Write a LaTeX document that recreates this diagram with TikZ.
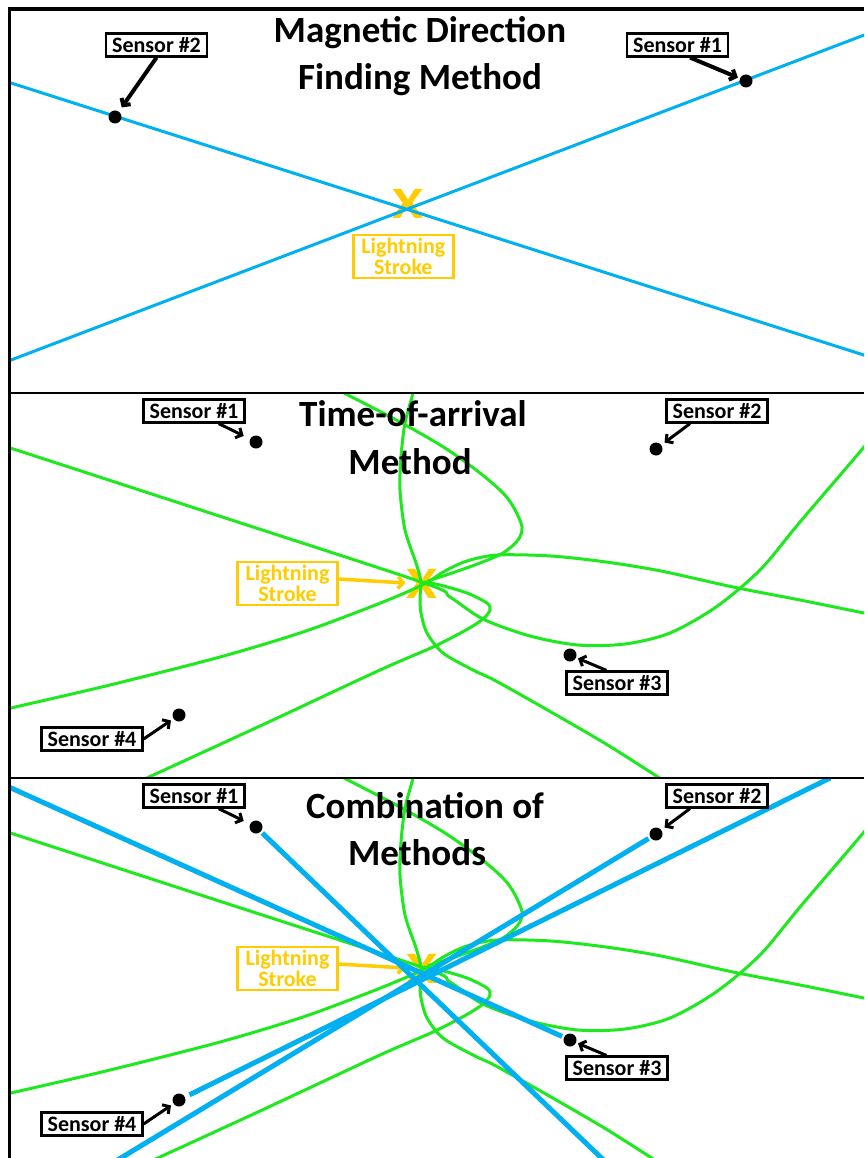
\documentclass[tikz,border=0pt]{standalone}
\usepackage{fontspec}
\setmainfont{Carlito}
\usetikzlibrary{arrows.meta}

\definecolor{dfblue}{RGB}{0,176,240}
\definecolor{toagreen}{RGB}{30,232,30}
\definecolor{strokegold}{RGB}{255,204,0}

\tikzset{
  sensordot/.style={circle, fill=black, inner sep=0pt, minimum size=13pt},
  sensorlabel/.style={draw=black, line width=2.2pt, fill=white, inner sep=0pt,
    minimum width=101pt, minimum height=23pt, font=\fontsize{22}{22}\selectfont\bfseries},
  sensorarrow/.style={draw=black, line width=3pt, -{Straight Barb[length=5pt,width=11pt]}},
  boldarrow/.style={sensorarrow, line width=4pt},
  strikelabel/.style={draw=strokegold, line width=2.5pt, text=strokegold, align=center,
    inner sep=0pt, minimum width=100pt, minimum height=43pt,
    font=\fontsize{22}{20.7}\selectfont\bfseries},
  strikemark/.style={text=strokegold, inner sep=0pt, font=\fontsize{45}{45}\selectfont\bfseries},
  strikearrow/.style={draw=strokegold, line width=3.5pt, -{Straight Barb[length=5pt,width=12pt]}},
  paneltitle/.style={anchor=base, inner sep=0pt, font=\fontsize{37}{37}\selectfont\bfseries},
  dfline/.style={draw=dfblue, line width=3pt},
  dfbeam/.style={draw=dfblue, line width=5pt},
  toa/.style={draw=toagreen, line width=3pt, line cap=round},
  outerframe/.style={draw=black, line width=3.5pt},
  divider/.style={draw=black, line width=2.5pt},
}

% hyperbola branches of the time-of-arrival fix (drawn in the middle panel's frame)
\newcommand{\arrivalcurves}{%
  \draw[toa] plot[smooth] coordinates {(-5,443) (210,513) (424,583) (450,597) (483,619)
    (530,636) (578,645) (625,644) (670,633) (716,607) (760,570) (800,522) (864,447) (885,420)};
  \draw[toa] plot[smooth] coordinates {(-5,712) (11,708) (110,685) (220,657) (300,633)
    (360,611) (400,595) (426,583) (445,571) (467,561) (497,555) (551,556) (606,562)
    (661,571) (733,587) (800,600) (864,613) (900,620)};
  \draw[toa] plot[smooth] coordinates {(414,380) (413,393) (405,423) (401,457) (400,490)
    (405,530) (416,563) (421,582) (420,597) (421,613) (427,633) (443,653) (473,670)
    (496,681) (551,712) (606,744) (658,777) (675,788)};
  \draw[toa] plot[smooth] coordinates {(120,790) (149,777) (260,726) (380,670) (433,647)
    (466,630) (483,619) (490,610) (487,603) (467,593) (440,585) (424,582)};
  \draw[toa] plot[smooth] coordinates {(330,386) (344,393) (400,422) (445,448) (480,473)
    (503,493) (514,508) (522,527) (518,540) (503,553) (480,563) (455,572) (428,581)};
}

\begin{document}
\begin{tikzpicture}[x=1pt,y=-1pt]
\useasboundingbox (0,0) rectangle (864,1158);
\fill[white] (0,0) rectangle (864,1158);

% ---------- magnetic direction finding ----------
\begin{scope}
  \clip (9.5,9) rectangle (864,393);
  \node[strikemark] (xa) at (408,204) {\scalebox{1.25}[1]{X}};
  \coordinate (bla) at (0,364.2);
  \coordinate (bra) at (880,29);
  \coordinate (blb) at (0,79.5);
  \coordinate (brb) at (880,360.2);
  \draw[dfline] (bla) -- (bra);
  \draw[dfline] (blb) -- (brb);
  \node[sensordot] (s1a) at (746,81) {};
  \node[sensordot] (s2a) at (115,117) {};
  \node[sensorlabel] (l1a) at (677.5,45) {Sensor \#1};
  \node[sensorlabel] (l2a) at (156.5,45) {Sensor \#2};
  \draw[boldarrow, shorten >=2pt] (l1a.-45) -- (s1a);
  \draw[boldarrow, shorten >=5pt] (l2a.south) -- (s2a);
  \node[strikelabel] (lsa) at (403.3,256.7) {Lightning\\Stroke};
  \node[paneltitle] (ta1) at (420,42.7) {Magnetic Direction};
  \node[paneltitle] (ta2) at (420,90) {Finding Method};
\end{scope}

% ---------- time of arrival ----------
\begin{scope}
  \clip (9.5,393) rectangle (864,778);
  \node[strikemark] (xb) at (422,584) {\scalebox{1.25}[1]{X}};
  \arrivalcurves
  \node[strikelabel] (lsb) at (287.5,583.5) {Lightning\\Stroke};
  \draw[strikearrow, shorten >=1pt] (lsb.5) -- (xb);
  \node[sensordot] (s1b) at (256,442) {};
  \node[sensordot] (s2b) at (656,449) {};
  \node[sensordot] (s3b) at (570,655) {};
  \node[sensordot] (s4b) at (179,715) {};
  \node[sensorlabel] (l1b) at (194,411) {Sensor \#1};
  \node[sensorlabel] (l2b) at (717,411) {Sensor \#2};
  \node[sensorlabel] (l3b) at (617,683) {Sensor \#3};
  \node[sensorlabel] (l4b) at (92,739) {Sensor \#4};
  \draw[sensorarrow, shorten >=7pt] (l1b.-27) -- (s1b);
  \draw[sensorarrow, shorten >=4pt] (l2b.-155) -- (s2b);
  \draw[sensorarrow, shorten >=2pt] (l3b.130) -- (s3b);
  \draw[sensorarrow, shorten >=3pt] (l4b.east) -- (s4b);
  \node[paneltitle] (tb1) at (413,426.7) {Time-of-arrival};
  \node[paneltitle] (tb2) at (410,474.3) {Method};
\end{scope}

% ---------- combination ----------
\begin{scope}
  \clip (9.5,778) rectangle (864,1158);
  \node[strikemark] (xc) at (422,969) {\scalebox{1.25}[1]{X}};
  \begin{scope}[shift={(0,385)}]
    \arrivalcurves
  \end{scope}
  \node[strikelabel] (lsc) at (287.5,968.5) {Lightning\\Stroke};
  \draw[strikearrow, shorten >=1pt] (lsc.5) -- (xc);
  \node[sensordot] (s1c) at (256,827) {};
  \node[sensordot] (s2c) at (656,834) {};
  \node[sensordot] (s3c) at (570,1040) {};
  \node[sensordot] (s4c) at (179,1100) {};
  \coordinate (e1c) at (614,1170);
  \coordinate (e2c) at (101,1170);
  \coordinate (e3c) at (0,783);
  \coordinate (e4c) at (830,778);
  \draw[dfbeam, shorten <=2pt] (s1c) -- (e1c);
  \draw[dfbeam, shorten <=2pt] (s2c) -- (e2c);
  \draw[dfbeam, shorten <=2pt] (s3c) -- (e3c);
  \draw[dfbeam, shorten <=5pt] (s4c) -- (e4c);
  \node[sensorlabel] (l1c) at (194,796) {Sensor \#1};
  \node[sensorlabel] (l2c) at (717,796) {Sensor \#2};
  \node[sensorlabel] (l3c) at (617,1068) {Sensor \#3};
  \node[sensorlabel] (l4c) at (92,1124) {Sensor \#4};
  \draw[sensorarrow, shorten >=7pt] (l1c.-27) -- (s1c);
  \draw[sensorarrow, shorten >=4pt] (l2c.-155) -- (s2c);
  \draw[sensorarrow, shorten >=2pt] (l3c.130) -- (s3c);
  \draw[sensorarrow, shorten >=3pt] (l4c.east) -- (s4c);
  \node[paneltitle] (tc1) at (425,818.3) {Combination of};
  \node[paneltitle] (tc2) at (417,865) {Methods};
\end{scope}

% ---------- frame and panel dividers ----------
\draw[outerframe] (9.5,7.3) -- (9.5,1158);
\draw[outerframe] (7.75,9) -- (864,9);
\draw[divider] (9.5,393) -- (864,393);
\draw[divider] (9.5,778) -- (864,778);
\end{tikzpicture}
\end{document}
